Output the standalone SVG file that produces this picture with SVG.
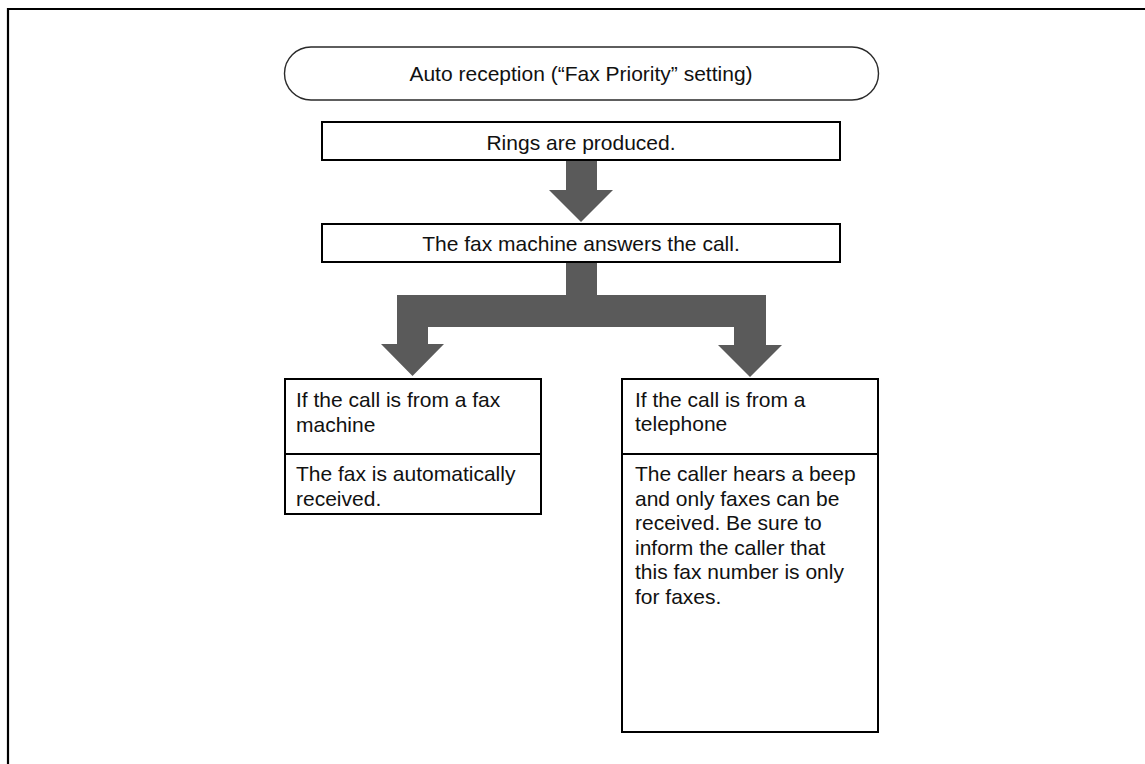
<svg xmlns="http://www.w3.org/2000/svg" width="1145" height="764" viewBox="0 0 1145 764">
  <style>
    .frame { fill: none; stroke: #000; stroke-width: 2.2; }
    .pill { fill: #fff; stroke: #2a2a2a; stroke-width: 1.4; }
    .box { fill: #fff; stroke: #000; stroke-width: 2; }
    .flow { fill: #5a5a5a; stroke: none; }
    text { font-family: "Liberation Sans", Arial, Helvetica, sans-serif; font-size: 21px; fill: #111; }
    .c { text-anchor: middle; }
  </style>

  <!-- page frame (open to the right and bottom) -->
  <path class="frame" d="M8,764 V9 H1145"/>

  <!-- thick flow arrows -->
  <g id="connectors">
    <path class="flow" d="M566,161 H597 V190 H613 L581,222 L549,190 H566 Z"/>
    <path class="flow" d="M566,263 H597 V295 H766 V345 H782 L750,377 L718,345 H734 V327 H428 V344 H444 L412.5,376 L381,344 H397 V295 H566 Z"/>
  </g>

  <g id="start">
    <rect class="pill" x="284.5" y="47" width="594" height="53" rx="26.5" ry="26.5"/>
    <text class="c" x="581" y="81">Auto reception (“Fax Priority” setting)</text>
  </g>

  <g id="rings">
    <rect class="box" x="322" y="122" width="518" height="38"/>
    <text class="c" x="581" y="149.5">Rings are produced.</text>
  </g>

  <g id="answer">
    <rect class="box" x="322" y="224" width="518" height="38"/>
    <text class="c" x="581" y="251">The fax machine answers the call.</text>
  </g>

  <g id="from-fax">
    <rect class="box" x="285" y="379" width="256" height="135"/>
    <line class="box" x1="285" y1="454" x2="541" y2="454"/>
    <text x="296" y="407">If the call is from a fax</text>
    <text x="296" y="432">machine</text>
    <text x="296" y="481">The fax is automatically</text>
    <text x="296" y="506">received.</text>
  </g>

  <g id="from-phone">
    <rect class="box" x="622" y="379" width="256" height="353"/>
    <line class="box" x1="622" y1="454" x2="878" y2="454"/>
    <text x="635" y="407">If the call is from a</text>
    <text x="635" y="431">telephone</text>
    <text x="635" y="481">The caller hears a beep</text>
    <text x="635" y="505.5">and only faxes can be</text>
    <text x="635" y="530">received. Be sure to</text>
    <text x="635" y="554.5">inform the caller that</text>
    <text x="635" y="579">this fax number is only</text>
    <text x="635" y="603.5">for faxes.</text>
  </g>
</svg>
